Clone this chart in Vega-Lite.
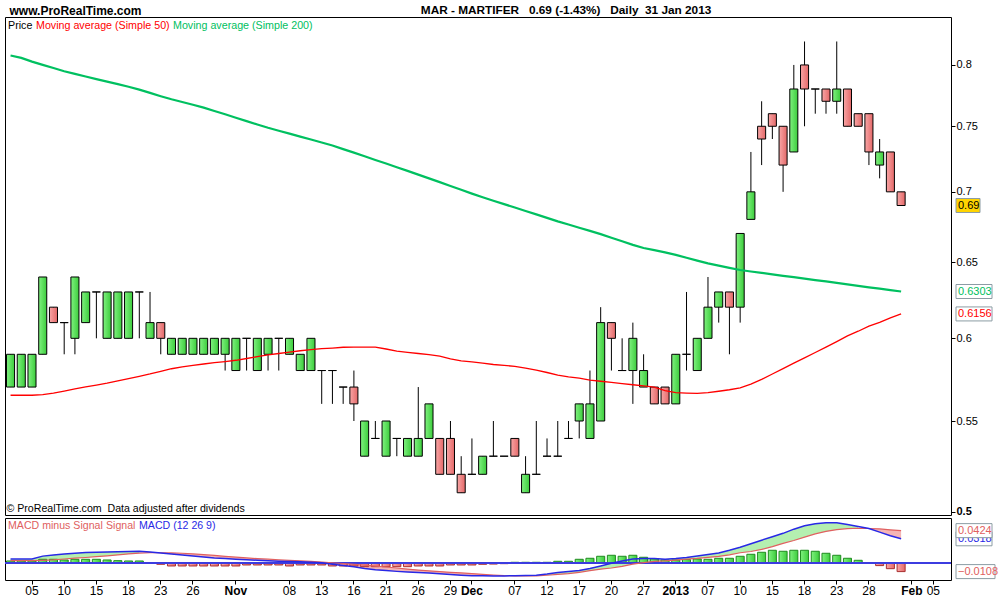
{
  "$schema": "https://vega.github.io/schema/vega-lite/v6.json",
  "padding": {"left": 3, "top": 4, "right": 0, "bottom": 0},
  "background": "white",
  "title": {
    "text": "MAR - MARTIFER\u00a0\u00a0\u00a00.69 (-1.43%)\u00a0\u00a0\u00a0Daily\u00a0\u00a031 Jan 2013",
    "anchor": "start", "dx": 417, "dy": 13, "offset": 0,
    "font": "Liberation Sans", "fontSize": 11.8, "fontWeight": "bold", "color": "black"
  },
  "datasets": {
    "d": [
      {"date":"2012-10-03","open":0.57,"high":0.59,"low":0.57,"close":0.59,"sma50":0.5651,"sma200":0.808,"macd":0.0056,"signal":0.0034,"hist":0.003,"phase":"a"},
      {"date":"2012-10-04","open":0.57,"high":0.59,"low":0.57,"close":0.59,"sma50":0.5651,"sma200":0.806,"macd":0.0056,"signal":0.0034,"hist":0.003,"phase":"a"},
      {"date":"2012-10-05","open":0.57,"high":0.59,"low":0.57,"close":0.59,"sma50":0.5651,"sma200":0.8028,"macd":0.0056,"signal":0.0034,"hist":0.003,"phase":"a"},
      {"date":"2012-10-08","open":0.59,"high":0.64,"low":0.59,"close":0.64,"sma50":0.5655,"sma200":0.8001,"macd":0.0093,"signal":0.0039,"hist":0.0052,"phase":"a"},
      {"date":"2012-10-09","open":0.62,"high":0.62,"low":0.61,"close":0.61,"sma50":0.5664,"sma200":0.7974,"macd":0.0108,"signal":0.0044,"hist":0.0052,"phase":"a"},
      {"date":"2012-10-10","open":0.61,"high":0.61,"low":0.59,"close":0.61,"sma50":0.5676,"sma200":0.7947,"macd":0.0121,"signal":0.0056,"hist":0.0043,"phase":"a"},
      {"date":"2012-10-11","open":0.60,"high":0.64,"low":0.59,"close":0.64,"sma50":0.5689,"sma200":0.7925,"macd":0.013,"signal":0.0066,"hist":0.0052,"phase":"a"},
      {"date":"2012-10-12","open":0.61,"high":0.63,"low":0.61,"close":0.63,"sma50":0.5701,"sma200":0.7903,"macd":0.0139,"signal":0.0075,"hist":0.0052,"phase":"a"},
      {"date":"2012-10-15","open":0.63,"high":0.63,"low":0.60,"close":0.63,"sma50":0.5712,"sma200":0.7882,"macd":0.0143,"signal":0.0086,"hist":0.0052,"phase":"a"},
      {"date":"2012-10-16","open":0.60,"high":0.63,"low":0.60,"close":0.63,"sma50":0.5723,"sma200":0.7861,"macd":0.0147,"signal":0.0097,"hist":0.0043,"phase":"a"},
      {"date":"2012-10-17","open":0.60,"high":0.63,"low":0.60,"close":0.63,"sma50":0.5737,"sma200":0.784,"macd":0.015,"signal":0.0109,"hist":0.0034,"phase":"a"},
      {"date":"2012-10-18","open":0.60,"high":0.63,"low":0.60,"close":0.63,"sma50":0.5751,"sma200":0.7819,"macd":0.0152,"signal":0.0121,"hist":0.003,"phase":"a"},
      {"date":"2012-10-19","open":0.63,"high":0.63,"low":0.60,"close":0.63,"sma50":0.5765,"sma200":0.7795,"macd":0.0155,"signal":0.0133,"hist":0.003,"phase":"a"},
      {"date":"2012-10-22","open":0.60,"high":0.63,"low":0.60,"close":0.61,"sma50":0.5779,"sma200":0.7768,"macd":0.0147,"signal":0.0138,"hist":0.0003,"phase":"b"},
      {"date":"2012-10-23","open":0.61,"high":0.61,"low":0.59,"close":0.60,"sma50":0.5795,"sma200":0.7741,"macd":0.0134,"signal":0.0137,"hist":-0.0013,"phase":"b"},
      {"date":"2012-10-24","open":0.59,"high":0.60,"low":0.59,"close":0.60,"sma50":0.5811,"sma200":0.7716,"macd":0.0122,"signal":0.0134,"hist":-0.0035,"phase":"b"},
      {"date":"2012-10-25","open":0.59,"high":0.60,"low":0.59,"close":0.60,"sma50":0.5822,"sma200":0.7694,"macd":0.0109,"signal":0.013,"hist":-0.0035,"phase":"b"},
      {"date":"2012-10-26","open":0.59,"high":0.60,"low":0.59,"close":0.60,"sma50":0.5832,"sma200":0.7672,"macd":0.0095,"signal":0.0121,"hist":-0.0035,"phase":"b"},
      {"date":"2012-10-29","open":0.59,"high":0.60,"low":0.59,"close":0.60,"sma50":0.584,"sma200":0.7649,"macd":0.0082,"signal":0.0112,"hist":-0.0035,"phase":"b"},
      {"date":"2012-10-30","open":0.59,"high":0.60,"low":0.59,"close":0.60,"sma50":0.5848,"sma200":0.7622,"macd":0.007,"signal":0.0102,"hist":-0.0035,"phase":"b"},
      {"date":"2012-10-31","open":0.59,"high":0.60,"low":0.58,"close":0.60,"sma50":0.5855,"sma200":0.7595,"macd":0.0062,"signal":0.0091,"hist":-0.0035,"phase":"b"},
      {"date":"2012-11-01","open":0.58,"high":0.60,"low":0.58,"close":0.60,"sma50":0.5863,"sma200":0.7568,"macd":0.0054,"signal":0.008,"hist":-0.0035,"phase":"b"},
      {"date":"2012-11-02","open":0.60,"high":0.60,"low":0.58,"close":0.60,"sma50":0.5874,"sma200":0.7541,"macd":0.0046,"signal":0.0069,"hist":-0.0022,"phase":"b"},
      {"date":"2012-11-05","open":0.58,"high":0.60,"low":0.58,"close":0.60,"sma50":0.5885,"sma200":0.7514,"macd":0.0039,"signal":0.006,"hist":-0.0022,"phase":"b"},
      {"date":"2012-11-06","open":0.59,"high":0.60,"low":0.58,"close":0.60,"sma50":0.5896,"sma200":0.7488,"macd":0.0034,"signal":0.0053,"hist":-0.0022,"phase":"b"},
      {"date":"2012-11-07","open":0.60,"high":0.60,"low":0.58,"close":0.60,"sma50":0.5905,"sma200":0.7465,"macd":0.0028,"signal":0.0046,"hist":-0.0022,"phase":"b"},
      {"date":"2012-11-08","open":0.59,"high":0.60,"low":0.59,"close":0.60,"sma50":0.5913,"sma200":0.7442,"macd":0.0023,"signal":0.0039,"hist":-0.0035,"phase":"b"},
      {"date":"2012-11-09","open":0.58,"high":0.59,"low":0.58,"close":0.59,"sma50":0.5922,"sma200":0.7419,"macd":0.0019,"signal":0.0032,"hist":-0.0022,"phase":"b"},
      {"date":"2012-11-12","open":0.58,"high":0.60,"low":0.58,"close":0.60,"sma50":0.5929,"sma200":0.7396,"macd":0.0015,"signal":0.0025,"hist":-0.0022,"phase":"b"},
      {"date":"2012-11-13","open":0.58,"high":0.58,"low":0.56,"close":0.58,"sma50":0.5935,"sma200":0.7373,"macd":0.0006,"signal":0.0017,"hist":-0.0022,"phase":"b"},
      {"date":"2012-11-14","open":0.58,"high":0.58,"low":0.56,"close":0.58,"sma50":0.5939,"sma200":0.735,"macd":-0.0012,"signal":0.0007,"hist":-0.0035,"phase":"b"},
      {"date":"2012-11-15","open":0.57,"high":0.57,"low":0.56,"close":0.57,"sma50":0.5944,"sma200":0.7322,"macd":-0.0028,"signal":-0.0003,"hist":-0.0035,"phase":"b"},
      {"date":"2012-11-16","open":0.57,"high":0.58,"low":0.55,"close":0.56,"sma50":0.5945,"sma200":0.7295,"macd":-0.0045,"signal":-0.0013,"hist":-0.0035,"phase":"b"},
      {"date":"2012-11-19","open":0.53,"high":0.55,"low":0.53,"close":0.55,"sma50":0.5945,"sma200":0.7267,"macd":-0.0067,"signal":-0.0024,"hist":-0.0044,"phase":"b"},
      {"date":"2012-11-20","open":0.54,"high":0.55,"low":0.54,"close":0.54,"sma50":0.5945,"sma200":0.7239,"macd":-0.0083,"signal":-0.0036,"hist":-0.0044,"phase":"b"},
      {"date":"2012-11-21","open":0.53,"high":0.55,"low":0.53,"close":0.55,"sma50":0.5933,"sma200":0.7212,"macd":-0.0094,"signal":-0.0048,"hist":-0.0044,"phase":"b"},
      {"date":"2012-11-22","open":0.54,"high":0.54,"low":0.53,"close":0.54,"sma50":0.592,"sma200":0.7184,"macd":-0.0105,"signal":-0.0061,"hist":-0.0044,"phase":"b"},
      {"date":"2012-11-23","open":0.53,"high":0.54,"low":0.53,"close":0.54,"sma50":0.5912,"sma200":0.7156,"macd":-0.0114,"signal":-0.0075,"hist":-0.0044,"phase":"b"},
      {"date":"2012-11-26","open":0.53,"high":0.57,"low":0.53,"close":0.54,"sma50":0.5905,"sma200":0.7128,"macd":-0.0121,"signal":-0.0088,"hist":-0.0035,"phase":"b"},
      {"date":"2012-11-27","open":0.54,"high":0.56,"low":0.54,"close":0.56,"sma50":0.5898,"sma200":0.71,"macd":-0.0127,"signal":-0.0098,"hist":-0.0035,"phase":"b"},
      {"date":"2012-11-28","open":0.54,"high":0.54,"low":0.52,"close":0.52,"sma50":0.5888,"sma200":0.7072,"macd":-0.0136,"signal":-0.0107,"hist":-0.0035,"phase":"b"},
      {"date":"2012-11-29","open":0.54,"high":0.55,"low":0.52,"close":0.52,"sma50":0.5872,"sma200":0.7043,"macd":-0.0146,"signal":-0.0117,"hist":-0.0022,"phase":"b"},
      {"date":"2012-11-30","open":0.52,"high":0.53,"low":0.51,"close":0.51,"sma50":0.5859,"sma200":0.7015,"macd":-0.0155,"signal":-0.0125,"hist":-0.0022,"phase":"b"},
      {"date":"2012-12-03","open":0.52,"high":0.54,"low":0.52,"close":0.52,"sma50":0.5853,"sma200":0.6987,"macd":-0.0162,"signal":-0.0133,"hist":-0.0022,"phase":"b"},
      {"date":"2012-12-04","open":0.52,"high":0.53,"low":0.52,"close":0.53,"sma50":0.5846,"sma200":0.696,"macd":-0.0163,"signal":-0.0143,"hist":-0.0013,"phase":"b"},
      {"date":"2012-12-05","open":0.53,"high":0.55,"low":0.53,"close":0.53,"sma50":0.5837,"sma200":0.6935,"macd":-0.0165,"signal":-0.0152,"hist":-0.001,"phase":"b"},
      {"date":"2012-12-06","open":0.53,"high":0.53,"low":0.53,"close":0.53,"sma50":0.5831,"sma200":0.691,"macd":-0.0164,"signal":-0.016,"hist":-0.0005,"phase":"b"},
      {"date":"2012-12-07","open":0.54,"high":0.54,"low":0.53,"close":0.53,"sma50":0.5826,"sma200":0.6885,"macd":-0.0161,"signal":-0.0163,"hist":0.0013,"phase":"c"},
      {"date":"2012-12-10","open":0.51,"high":0.53,"low":0.51,"close":0.52,"sma50":0.5815,"sma200":0.686,"macd":-0.0158,"signal":-0.0164,"hist":0.0013,"phase":"c"},
      {"date":"2012-12-11","open":0.52,"high":0.55,"low":0.52,"close":0.52,"sma50":0.5802,"sma200":0.6836,"macd":-0.0154,"signal":-0.0163,"hist":0.0013,"phase":"c"},
      {"date":"2012-12-12","open":0.53,"high":0.54,"low":0.53,"close":0.53,"sma50":0.5788,"sma200":0.6811,"macd":-0.014,"signal":-0.0155,"hist":0.0013,"phase":"c"},
      {"date":"2012-12-13","open":0.53,"high":0.55,"low":0.53,"close":0.53,"sma50":0.5772,"sma200":0.6786,"macd":-0.0121,"signal":-0.0145,"hist":0.0026,"phase":"c"},
      {"date":"2012-12-14","open":0.54,"high":0.55,"low":0.54,"close":0.54,"sma50":0.5762,"sma200":0.6763,"macd":-0.0107,"signal":-0.0135,"hist":0.0026,"phase":"c"},
      {"date":"2012-12-17","open":0.55,"high":0.56,"low":0.54,"close":0.56,"sma50":0.5754,"sma200":0.674,"macd":-0.0093,"signal":-0.0117,"hist":0.0052,"phase":"c"},
      {"date":"2012-12-18","open":0.54,"high":0.58,"low":0.54,"close":0.56,"sma50":0.5742,"sma200":0.6718,"macd":-0.0067,"signal":-0.0096,"hist":0.0065,"phase":"c"},
      {"date":"2012-12-19","open":0.55,"high":0.62,"low":0.55,"close":0.61,"sma50":0.5735,"sma200":0.6695,"macd":-0.0034,"signal":-0.0077,"hist":0.0091,"phase":"c"},
      {"date":"2012-12-20","open":0.61,"high":0.61,"low":0.58,"close":0.60,"sma50":0.5728,"sma200":0.667,"macd":0.0001,"signal":-0.0061,"hist":0.0104,"phase":"c"},
      {"date":"2012-12-21","open":0.58,"high":0.60,"low":0.58,"close":0.58,"sma50":0.5721,"sma200":0.6645,"macd":0.0031,"signal":-0.0039,"hist":0.0091,"phase":"c"},
      {"date":"2012-12-24","open":0.58,"high":0.61,"low":0.56,"close":0.60,"sma50":0.5714,"sma200":0.662,"macd":0.0055,"signal":-0.001,"hist":0.0104,"phase":"c"},
      {"date":"2012-12-27","open":0.57,"high":0.59,"low":0.57,"close":0.58,"sma50":0.5707,"sma200":0.6598,"macd":0.0061,"signal":0.0009,"hist":0.0078,"phase":"c"},
      {"date":"2012-12-28","open":0.57,"high":0.57,"low":0.56,"close":0.56,"sma50":0.57,"sma200":0.6583,"macd":0.0063,"signal":0.0026,"hist":0.0056,"phase":"c"},
      {"date":"2012-12-31","open":0.57,"high":0.57,"low":0.56,"close":0.56,"sma50":0.5678,"sma200":0.6568,"macd":0.0054,"signal":0.0032,"hist":0.0043,"phase":"c"},
      {"date":"2013-01-02","open":0.56,"high":0.59,"low":0.56,"close":0.59,"sma50":0.5667,"sma200":0.6551,"macd":0.0061,"signal":0.0042,"hist":0.0043,"phase":"c"},
      {"date":"2013-01-03","open":0.59,"high":0.63,"low":0.58,"close":0.59,"sma50":0.5664,"sma200":0.6531,"macd":0.0075,"signal":0.0054,"hist":0.0048,"phase":"c"},
      {"date":"2013-01-04","open":0.58,"high":0.60,"low":0.58,"close":0.60,"sma50":0.5662,"sma200":0.6511,"macd":0.0094,"signal":0.0063,"hist":0.0056,"phase":"c"},
      {"date":"2013-01-07","open":0.60,"high":0.64,"low":0.60,"close":0.62,"sma50":0.5667,"sma200":0.6492,"macd":0.0114,"signal":0.0076,"hist":0.0052,"phase":"c"},
      {"date":"2013-01-08","open":0.62,"high":0.63,"low":0.61,"close":0.63,"sma50":0.5675,"sma200":0.6477,"macd":0.0135,"signal":0.0089,"hist":0.0065,"phase":"c"},
      {"date":"2013-01-09","open":0.63,"high":0.63,"low":0.59,"close":0.62,"sma50":0.5684,"sma200":0.6462,"macd":0.017,"signal":0.011,"hist":0.0065,"phase":"c"},
      {"date":"2013-01-10","open":0.62,"high":0.67,"low":0.61,"close":0.67,"sma50":0.5695,"sma200":0.6447,"macd":0.0209,"signal":0.0137,"hist":0.0091,"phase":"c"},
      {"date":"2013-01-11","open":0.68,"high":0.73,"low":0.68,"close":0.70,"sma50":0.5718,"sma200":0.6437,"macd":0.0253,"signal":0.0153,"hist":0.0117,"phase":"c"},
      {"date":"2013-01-14","open":0.75,"high":0.77,"low":0.72,"close":0.74,"sma50":0.5746,"sma200":0.6428,"macd":0.03,"signal":0.018,"hist":0.0143,"phase":"c"},
      {"date":"2013-01-15","open":0.76,"high":0.76,"low":0.74,"close":0.75,"sma50":0.5779,"sma200":0.6418,"macd":0.0345,"signal":0.0216,"hist":0.0169,"phase":"c"},
      {"date":"2013-01-16","open":0.75,"high":0.75,"low":0.70,"close":0.72,"sma50":0.5812,"sma200":0.6408,"macd":0.0389,"signal":0.0259,"hist":0.0156,"phase":"c"},
      {"date":"2013-01-17","open":0.73,"high":0.80,"low":0.73,"close":0.78,"sma50":0.5845,"sma200":0.6399,"macd":0.0443,"signal":0.0296,"hist":0.0169,"phase":"c"},
      {"date":"2013-01-18","open":0.80,"high":0.82,"low":0.75,"close":0.78,"sma50":0.5878,"sma200":0.6389,"macd":0.0487,"signal":0.0339,"hist":0.0169,"phase":"c"},
      {"date":"2013-01-21","open":0.78,"high":0.78,"low":0.76,"close":0.78,"sma50":0.5911,"sma200":0.6379,"macd":0.0514,"signal":0.0382,"hist":0.0156,"phase":"c"},
      {"date":"2013-01-22","open":0.78,"high":0.78,"low":0.76,"close":0.77,"sma50":0.5945,"sma200":0.637,"macd":0.0526,"signal":0.0414,"hist":0.013,"phase":"c"},
      {"date":"2013-01-23","open":0.77,"high":0.82,"low":0.76,"close":0.78,"sma50":0.5979,"sma200":0.636,"macd":0.0525,"signal":0.0437,"hist":0.0104,"phase":"c"},
      {"date":"2013-01-24","open":0.78,"high":0.78,"low":0.75,"close":0.75,"sma50":0.6015,"sma200":0.635,"macd":0.0503,"signal":0.0451,"hist":0.0065,"phase":"c"},
      {"date":"2013-01-25","open":0.76,"high":0.76,"low":0.75,"close":0.75,"sma50":0.6045,"sma200":0.6341,"macd":0.0478,"signal":0.0455,"hist":0.0039,"phase":"c"},
      {"date":"2013-01-28","open":0.76,"high":0.76,"low":0.72,"close":0.73,"sma50":0.6077,"sma200":0.6331,"macd":0.0452,"signal":0.0452,"hist":0.0003,"phase":"d"},
      {"date":"2013-01-29","open":0.72,"high":0.74,"low":0.71,"close":0.73,"sma50":0.6101,"sma200":0.6322,"macd":0.0405,"signal":0.0446,"hist":-0.003,"phase":"d"},
      {"date":"2013-01-30","open":0.73,"high":0.73,"low":0.70,"close":0.70,"sma50":0.613,"sma200":0.6312,"macd":0.0358,"signal":0.0434,"hist":-0.007,"phase":"d"},
      {"date":"2013-01-31","open":0.70,"high":0.70,"low":0.69,"close":0.69,"sma50":0.6156,"sma200":0.6303,"macd":0.0318,"signal":0.0424,"hist":-0.0108,"phase":"d"}
    ]
  },
  "vconcat": [
    {
      "width": 946, "height": 498,
      "data": {"name": "d"},
      "encoding": {
        "x": {"field": "date", "type": "ordinal",
          "scale": {"type": "band", "paddingInner": 0.25, "paddingOuter": 0.708, "align": 0.1, "round": false,
            "domain": ["2012-10-03","2012-10-04","2012-10-05","2012-10-08","2012-10-09","2012-10-10","2012-10-11","2012-10-12","2012-10-15","2012-10-16","2012-10-17","2012-10-18","2012-10-19","2012-10-22","2012-10-23","2012-10-24","2012-10-25","2012-10-26","2012-10-29","2012-10-30","2012-10-31","2012-11-01","2012-11-02","2012-11-05","2012-11-06","2012-11-07","2012-11-08","2012-11-09","2012-11-12","2012-11-13","2012-11-14","2012-11-15","2012-11-16","2012-11-19","2012-11-20","2012-11-21","2012-11-22","2012-11-23","2012-11-26","2012-11-27","2012-11-28","2012-11-29","2012-11-30","2012-12-03","2012-12-04","2012-12-05","2012-12-06","2012-12-07","2012-12-10","2012-12-11","2012-12-12","2012-12-13","2012-12-14","2012-12-17","2012-12-18","2012-12-19","2012-12-20","2012-12-21","2012-12-24","2012-12-27","2012-12-28","2012-12-31","2013-01-02","2013-01-03","2013-01-04","2013-01-07","2013-01-08","2013-01-09","2013-01-10","2013-01-11","2013-01-14","2013-01-15","2013-01-16","2013-01-17","2013-01-18","2013-01-21","2013-01-22","2013-01-23","2013-01-24","2013-01-25","2013-01-28","2013-01-29","2013-01-30","2013-01-31","2013-02-01","2013-02-04","2013-02-05"]},
          "axis": {"orient": "bottom", "labels": false, "ticks": false, "domain": false, "grid": false,
            "title": "\u00a9 ProRealTime.com\u00a0\u00a0Data adjusted after dividends",
            "titleAnchor": "start", "titleAlign": "left", "titleX": 1, "titleY": -7, "titleBaseline": "middle",
            "titleFont": "Liberation Sans", "titleFontSize": 10.6, "titleFontWeight": "normal", "titleColor": "black"}
        }
      },
      "layer": [
        {
          "mark": {"type": "rule", "stroke": "black", "strokeWidth": 1},
          "encoding": {
            "y": {"field": "low", "type": "quantitative",
              "scale": {"type": "log", "domain": [0.4982, 0.8414], "nice": false, "zero": false},
              "axis": {"orient": "right", "values": [0.5, 0.55, 0.6, 0.65, 0.7, 0.75, 0.8], "format": "~g", "title": null, "grid": false, "domain": false,
                "ticks": true, "tickSize": 4, "tickColor": "black", "labelPadding": 1, "labelFont": "Liberation Sans", "labelFontSize": 11, "labelColor": "black",
                "labelOverlap": false, "labelBound": false, "labelFlush": false,
                "labelFontWeight": {"condition": {"test": "datum.value == 0.5", "value": "bold"}, "value": "normal"}}},
            "y2": {"field": "high"}
          }
        },
        {
          "mark": {"type": "bar", "stroke": "black", "strokeWidth": 1},
          "encoding": {
            "y": {"field": "open", "type": "quantitative",
              "scale": {"type": "log", "domain": [0.4982, 0.8414], "nice": false, "zero": false},
              "axis": {"orient": "left", "labels": false, "ticks": false, "domain": false, "grid": false,
                "title": "www.ProRealTime.com", "titleAngle": 0, "titleX": 4, "titleY": -6.5, "titleAlign": "left", "titleBaseline": "middle",
                "titleFont": "Liberation Sans", "titleFontSize": 12, "titleFontWeight": "bold", "titleColor": "black"}},
            "y2": {"field": "close"},
            "fill": {"condition": {"test": "datum.close < datum.open",
                "value": {"gradient": "linear", "x1": 0, "y1": 0, "x2": 1, "y2": 0, "stops": [{"offset": 0, "color": "#f8a6a6"}, {"offset": 1, "color": "#e46868"}]}},
              "value": {"gradient": "linear", "x1": 0, "y1": 0, "x2": 1, "y2": 0, "stops": [{"offset": 0, "color": "#80f280"}, {"offset": 1, "color": "#3ccc3c"}]}}
          }
        },
        {
          "mark": {"type": "line", "strokeWidth": 2.2},
          "encoding": {
            "y": {"field": "sma200", "type": "quantitative", "scale": {"type": "log", "domain": [0.4982, 0.8414], "nice": false, "zero": false}, "axis": null},
            "stroke": {"datum": "Moving average (Simple 200)", "type": "nominal",
              "scale": {"domain": ["Price", "Moving average (Simple 50)", "Moving average (Simple 200)"], "range": ["#000000", "#ff0000", "#00c060"]},
              "legend": {"orient": "top-left", "direction": "horizontal", "columns": 3, "title": null, "offset": 3, "padding": 0,
                "symbolSize": 0, "symbolStrokeWidth": 0, "symbolOpacity": 0, "labelOffset": -10.7, "columnPadding": 3,
                "labelFont": "Liberation Sans", "labelFontSize": 10.7, "labelLimit": 400,
                "encode": {"labels": {"update": {"fill": {"signal": "datum.value === 'Price' ? '#000000' : (datum.value === 'Moving average (Simple 50)' ? '#ff0000' : '#00c060')"}}}}}}
          }
        },
        {
          "mark": {"type": "line", "strokeWidth": 1.3},
          "encoding": {
            "y": {"field": "sma50", "type": "quantitative", "scale": {"type": "log", "domain": [0.4982, 0.8414], "nice": false, "zero": false}, "axis": null},
            "stroke": {"datum": "Moving average (Simple 50)", "type": "nominal",
              "scale": {"domain": ["Price", "Moving average (Simple 50)", "Moving average (Simple 200)"], "range": ["#000000", "#ff0000", "#00c060"]},
              "legend": {"orient": "top-left", "direction": "horizontal", "columns": 3, "title": null, "offset": 3, "padding": 0,
                "symbolSize": 0, "symbolStrokeWidth": 0, "symbolOpacity": 0, "labelOffset": -10.7, "columnPadding": 3,
                "labelFont": "Liberation Sans", "labelFontSize": 10.7, "labelLimit": 400,
                "encode": {"labels": {"update": {"fill": {"signal": "datum.value === 'Price' ? '#000000' : (datum.value === 'Moving average (Simple 50)' ? '#ff0000' : '#00c060')"}}}}}}
          }
        },
        {
          "transform": [{"filter": "datum.date == '2013-01-31'"}],
          "mark": {"type": "rect", "fill": "#ffffff", "stroke": "#8c9ca4", "strokeWidth": 1, "xOffset": 5, "x2Offset": 41, "yOffset": -7, "y2Offset": 7},
          "encoding": {
            "x": {"value": "width"}, "x2": {"value": "width"},
            "y": {"field": "sma200", "type": "quantitative", "scale": {"type": "log", "domain": [0.4982, 0.8414], "nice": false, "zero": false}, "axis": null},
            "y2": {"field": "sma200"}
          }
        },
        {
          "transform": [{"filter": "datum.date == '2013-01-31'"}],
          "mark": {"type": "rect", "fill": "#ffffff", "stroke": "#8c9ca4", "strokeWidth": 1, "xOffset": 5, "x2Offset": 41, "yOffset": -7, "y2Offset": 7},
          "encoding": {
            "x": {"value": "width"}, "x2": {"value": "width"},
            "y": {"field": "sma50", "type": "quantitative", "scale": {"type": "log", "domain": [0.4982, 0.8414], "nice": false, "zero": false}, "axis": null},
            "y2": {"field": "sma50"}
          }
        },
        {
          "transform": [{"filter": "datum.date == '2013-01-31'"}],
          "mark": {"type": "rect", "fill": "#ffd400", "stroke": "#8c9ca4", "strokeWidth": 1, "xOffset": 5, "x2Offset": 29, "yOffset": -7, "y2Offset": 7},
          "encoding": {
            "x": {"value": "width"}, "x2": {"value": "width"},
            "y": {"field": "close", "type": "quantitative", "scale": {"type": "log", "domain": [0.4982, 0.8414], "nice": false, "zero": false}, "axis": null},
            "y2": {"field": "close"}
          }
        },
        {
          "transform": [{"filter": "datum.date == '2013-01-31'"}],
          "mark": {"type": "text", "align": "left", "baseline": "middle", "dx": 7, "font": "Liberation Sans", "fontSize": 11, "fill": "#00c060"},
          "encoding": {
            "x": {"value": "width"},
            "y": {"field": "sma200", "type": "quantitative", "scale": {"type": "log", "domain": [0.4982, 0.8414], "nice": false, "zero": false}, "axis": null},
            "text": {"field": "sma200", "format": ".4f"}
          }
        },
        {
          "transform": [{"filter": "datum.date == '2013-01-31'"}],
          "mark": {"type": "text", "align": "left", "baseline": "middle", "dx": 7, "font": "Liberation Sans", "fontSize": 11, "fill": "#ff0000"},
          "encoding": {
            "x": {"value": "width"},
            "y": {"field": "sma50", "type": "quantitative", "scale": {"type": "log", "domain": [0.4982, 0.8414], "nice": false, "zero": false}, "axis": null},
            "text": {"field": "sma50", "format": ".4f"}
          }
        },
        {
          "transform": [{"filter": "datum.date == '2013-01-31'"}],
          "mark": {"type": "text", "align": "left", "baseline": "middle", "dx": 7, "font": "Liberation Sans", "fontSize": 11, "fill": "#000000"},
          "encoding": {
            "x": {"value": "width"},
            "y": {"field": "close", "type": "quantitative", "scale": {"type": "log", "domain": [0.4982, 0.8414], "nice": false, "zero": false}, "axis": null},
            "text": {"field": "close", "format": ".2f"}
          }
        }
      ],
      "resolve": {"axis": {"y": "independent"}}
    },
    {
      "width": 946, "height": 62,
      "data": {"name": "d"},
      "encoding": {
        "x": {"field": "date", "type": "ordinal",
          "scale": {"type": "band", "paddingInner": 0.25, "paddingOuter": 0.708, "align": 0.1, "round": false,
            "domain": ["2012-10-03","2012-10-04","2012-10-05","2012-10-08","2012-10-09","2012-10-10","2012-10-11","2012-10-12","2012-10-15","2012-10-16","2012-10-17","2012-10-18","2012-10-19","2012-10-22","2012-10-23","2012-10-24","2012-10-25","2012-10-26","2012-10-29","2012-10-30","2012-10-31","2012-11-01","2012-11-02","2012-11-05","2012-11-06","2012-11-07","2012-11-08","2012-11-09","2012-11-12","2012-11-13","2012-11-14","2012-11-15","2012-11-16","2012-11-19","2012-11-20","2012-11-21","2012-11-22","2012-11-23","2012-11-26","2012-11-27","2012-11-28","2012-11-29","2012-11-30","2012-12-03","2012-12-04","2012-12-05","2012-12-06","2012-12-07","2012-12-10","2012-12-11","2012-12-12","2012-12-13","2012-12-14","2012-12-17","2012-12-18","2012-12-19","2012-12-20","2012-12-21","2012-12-24","2012-12-27","2012-12-28","2012-12-31","2013-01-02","2013-01-03","2013-01-04","2013-01-07","2013-01-08","2013-01-09","2013-01-10","2013-01-11","2013-01-14","2013-01-15","2013-01-16","2013-01-17","2013-01-18","2013-01-21","2013-01-22","2013-01-23","2013-01-24","2013-01-25","2013-01-28","2013-01-29","2013-01-30","2013-01-31","2013-02-01","2013-02-04","2013-02-05"]},
          "axis": {"orient": "bottom", "title": null, "grid": false, "domain": false, "ticks": true, "tickSize": 4, "tickColor": "black",
            "values": ["2012-10-05","2012-10-10","2012-10-15","2012-10-18","2012-10-23","2012-10-26","2012-11-01","2012-11-08","2012-11-13","2012-11-16","2012-11-21","2012-11-26","2012-11-29","2012-12-03","2012-12-07","2012-12-12","2012-12-17","2012-12-20","2012-12-27","2013-01-02","2013-01-07","2013-01-10","2013-01-15","2013-01-18","2013-01-23","2013-01-28","2013-02-01","2013-02-05"],
            "labelExpr": "datum.value === '2012-11-01' ? 'Nov' : datum.value === '2012-12-03' ? 'Dec' : datum.value === '2013-01-02' ? '2013' : datum.value === '2013-02-01' ? 'Feb' : substring(datum.value, 8, 10)",
            "labelAngle": 0, "labelPadding": 1, "labelFont": "Liberation Sans", "labelFontSize": 12, "labelColor": "black", "labelOverlap": false,
            "labelFontWeight": {"condition": {"test": "indexof(['2012-11-01','2012-12-03','2013-01-02','2013-02-01'], datum.value) >= 0", "value": "bold"}, "value": "normal"}}
        }
      },
      "layer": [
        {
          "mark": {"type": "area", "opacity": 1},
          "encoding": {
            "y": {"field": "macd", "type": "quantitative", "stack": null,
              "scale": {"domain": [-0.0217, 0.0588], "nice": false, "zero": false},
              "axis": {"orient": "right", "values": [0, 0.05], "format": "~g", "title": null, "grid": false, "domain": false,
                "ticks": true, "tickSize": 4, "tickColor": "black", "labelPadding": 1, "labelFont": "Liberation Sans", "labelFontSize": 11, "labelColor": "black",
                "labelOverlap": false, "labelBound": false, "labelFlush": false,
                "labelFontWeight": {"condition": {"test": "datum.value == 0", "value": "bold"}, "value": "normal"}}},
            "y2": {"field": "signal"},
            "fill": {"field": "phase", "type": "nominal", "scale": {"domain": ["a", "b", "c", "d"], "range": ["#b4efb0", "#f5b5b5", "#b4efb0", "#f5b5b5"]}, "legend": null}
          }
        },
        {
          "mark": {"type": "bar", "strokeWidth": 1},
          "encoding": {
            "y": {"field": "hist", "type": "quantitative", "scale": {"domain": [-0.0217, 0.0588], "nice": false, "zero": false}, "axis": null},
            "y2": {"datum": 0},
            "fill": {"condition": {"test": "datum.hist < 0",
                "value": {"gradient": "linear", "x1": 0, "y1": 0, "x2": 1, "y2": 0, "stops": [{"offset": 0, "color": "#f8a6a6"}, {"offset": 1, "color": "#e46868"}]}},
              "value": {"gradient": "linear", "x1": 0, "y1": 0, "x2": 1, "y2": 0, "stops": [{"offset": 0, "color": "#80f280"}, {"offset": 1, "color": "#3ccc3c"}]}},
            "stroke": {"condition": {"test": "datum.hist < 0", "value": "#a83030"}, "value": "#1f8a1f"}
          }
        },
        {
          "mark": {"type": "rule", "stroke": "#3c3ce0", "strokeWidth": 1.3},
          "encoding": {
            "x": {"value": 0}, "x2": {"value": "width"},
            "y": {"datum": 0, "type": "quantitative", "scale": {"domain": [-0.0217, 0.0588], "nice": false, "zero": false}, "axis": null}
          }
        },
        {
          "mark": {"type": "line", "strokeWidth": 1.2},
          "encoding": {
            "y": {"field": "signal", "type": "quantitative", "scale": {"domain": [-0.0217, 0.0588], "nice": false, "zero": false}, "axis": null},
            "stroke": {"datum": "Signal", "type": "nominal",
              "scale": {"domain": ["MACD minus Signal", "Signal", "MACD (12 26 9)"], "range": ["#e86a6a", "#e06060", "#2828e6"]},
              "legend": {"orient": "top-left", "direction": "horizontal", "columns": 3, "title": null, "offset": 3, "padding": 0,
                "symbolSize": 0, "symbolStrokeWidth": 0, "symbolOpacity": 0, "labelOffset": -10.6, "columnPadding": 3,
                "labelFont": "Liberation Sans", "labelFontSize": 10.6, "labelLimit": 400,
                "encode": {"labels": {"update": {"fill": {"signal": "datum.value === 'MACD (12 26 9)' ? '#2828e6' : '#e06060'"}}}}}}
          }
        },
        {
          "mark": {"type": "line", "strokeWidth": 1.5},
          "encoding": {
            "y": {"field": "macd", "type": "quantitative", "scale": {"domain": [-0.0217, 0.0588], "nice": false, "zero": false}, "axis": null},
            "stroke": {"datum": "MACD (12 26 9)", "type": "nominal",
              "scale": {"domain": ["MACD minus Signal", "Signal", "MACD (12 26 9)"], "range": ["#e86a6a", "#e06060", "#2828e6"]},
              "legend": {"orient": "top-left", "direction": "horizontal", "columns": 3, "title": null, "offset": 3, "padding": 0,
                "symbolSize": 0, "symbolStrokeWidth": 0, "symbolOpacity": 0, "labelOffset": -10.6, "columnPadding": 3,
                "labelFont": "Liberation Sans", "labelFontSize": 10.6, "labelLimit": 400,
                "encode": {"labels": {"update": {"fill": {"signal": "datum.value === 'MACD (12 26 9)' ? '#2828e6' : '#e06060'"}}}}}}
          }
        },
        {
          "transform": [{"filter": "datum.date == '2013-01-31'"}],
          "mark": {"type": "rect", "fill": "#ffffff", "stroke": "#8c9ca4", "strokeWidth": 1, "xOffset": 5, "x2Offset": 41, "yOffset": -7, "y2Offset": 7},
          "encoding": {
            "x": {"value": "width"}, "x2": {"value": "width"},
            "y": {"field": "macd", "type": "quantitative", "scale": {"domain": [-0.0217, 0.0588], "nice": false, "zero": false}, "axis": null},
            "y2": {"field": "macd"}
          }
        },
        {
          "transform": [{"filter": "datum.date == '2013-01-31'"}],
          "mark": {"type": "text", "align": "left", "baseline": "middle", "dx": 7, "font": "Liberation Sans", "fontSize": 11, "fill": "#2828e6"},
          "encoding": {
            "x": {"value": "width"},
            "y": {"field": "macd", "type": "quantitative", "scale": {"domain": [-0.0217, 0.0588], "nice": false, "zero": false}, "axis": null},
            "text": {"field": "macd", "format": ".4f"}
          }
        },
        {
          "transform": [{"filter": "datum.date == '2013-01-31'"}],
          "mark": {"type": "rect", "fill": "#ffffff", "stroke": "#8c9ca4", "strokeWidth": 1, "xOffset": 5, "x2Offset": 41, "yOffset": -7, "y2Offset": 7},
          "encoding": {
            "x": {"value": "width"}, "x2": {"value": "width"},
            "y": {"field": "signal", "type": "quantitative", "scale": {"domain": [-0.0217, 0.0588], "nice": false, "zero": false}, "axis": null},
            "y2": {"field": "signal"}
          }
        },
        {
          "transform": [{"filter": "datum.date == '2013-01-31'"}],
          "mark": {"type": "text", "align": "left", "baseline": "middle", "dx": 7, "font": "Liberation Sans", "fontSize": 11, "fill": "#e06060"},
          "encoding": {
            "x": {"value": "width"},
            "y": {"field": "signal", "type": "quantitative", "scale": {"domain": [-0.0217, 0.0588], "nice": false, "zero": false}, "axis": null},
            "text": {"field": "signal", "format": ".4f"}
          }
        },
        {
          "transform": [{"filter": "datum.date == '2013-01-31'"}],
          "mark": {"type": "rect", "fill": "#ffffff", "stroke": "#8c9ca4", "strokeWidth": 1, "xOffset": 5, "x2Offset": 44, "yOffset": -7, "y2Offset": 7},
          "encoding": {
            "x": {"value": "width"}, "x2": {"value": "width"},
            "y": {"field": "hist", "type": "quantitative", "scale": {"domain": [-0.0217, 0.0588], "nice": false, "zero": false}, "axis": null},
            "y2": {"field": "hist"}
          }
        },
        {
          "transform": [{"filter": "datum.date == '2013-01-31'"}],
          "mark": {"type": "text", "align": "left", "baseline": "middle", "dx": 7, "font": "Liberation Sans", "fontSize": 11, "fill": "#e06060"},
          "encoding": {
            "x": {"value": "width"},
            "y": {"field": "hist", "type": "quantitative", "scale": {"domain": [-0.0217, 0.0588], "nice": false, "zero": false}, "axis": null},
            "text": {"field": "hist", "format": ".4f"}
          }
        }
      ]
    }
  ],
  "spacing": 3,
  "bounds": "flush",
  "resolve": {"scale": {"stroke": "independent", "fill": "independent", "y": "independent", "x": "independent"}, "legend": {"stroke": "independent"}},
  "config": {
    "view": {"stroke": "#000000", "strokeWidth": 1},
    "font": "Liberation Sans",
    "axis": {"grid": false}
  }
}
